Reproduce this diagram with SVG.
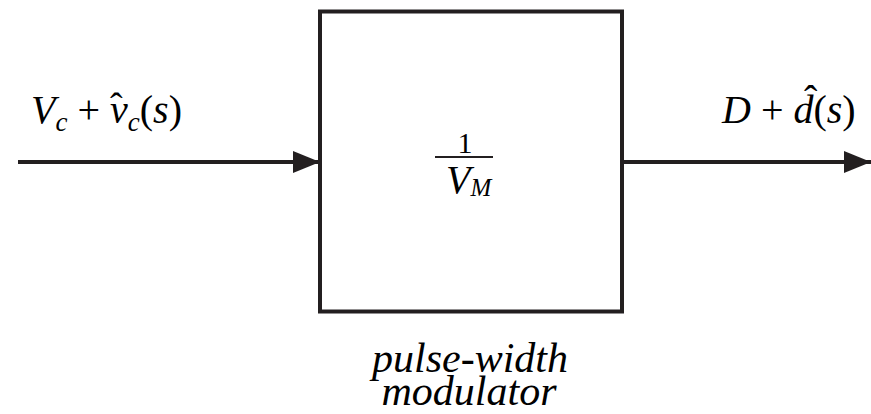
<svg xmlns="http://www.w3.org/2000/svg" width="871" height="414" viewBox="0 0 871 414">
<defs>
<marker id="ah" markerWidth="27" markerHeight="22" refX="27" refY="11" orient="auto" markerUnits="userSpaceOnUse">
<path d="M0,0 L27,11 L0,22 Z" fill="#231f20"/>
</marker>
</defs>
<rect width="871" height="414" fill="#fff"/>
<g id="connectors" stroke="#231f20" stroke-width="4" fill="none">
<line x1="18" y1="162" x2="320" y2="162" marker-end="url(#ah)"/>
<line x1="622" y1="162" x2="871" y2="162" marker-end="url(#ah)"/>
</g>
<g id="input-label">
<text font-family="Liberation Serif" x="31" y="123" font-size="40"><tspan font-style="italic">V</tspan><tspan font-style="italic" font-size="27" dy="8">c</tspan><tspan dy="-8"> + </tspan><tspan font-style="italic">v</tspan><tspan font-style="italic" font-size="27" dy="8">c</tspan><tspan dy="-8">(</tspan><tspan font-style="italic">s</tspan><tspan>)</tspan><tspan x="110" y="119" font-size="38">ˆ</tspan></text>
</g>
<g id="modulator">
<rect x="320" y="11.5" width="302" height="300" stroke="#231f20" stroke-width="4" fill="none"/>
<text font-family="Liberation Serif" x="465" y="153" font-size="30" text-anchor="middle">1</text>
<line x1="435" y1="157" x2="493" y2="157" stroke="#231f20" stroke-width="2"/>
<text font-family="Liberation Serif" font-style="italic" x="446" y="193" font-size="40">V<tspan font-size="25" dy="3">M</tspan></text>
</g>
<g id="output-label">
<text font-family="Liberation Serif" x="722" y="123" font-size="40"><tspan font-style="italic">D</tspan><tspan> + </tspan><tspan font-style="italic">d</tspan><tspan>(</tspan><tspan font-style="italic">s</tspan><tspan>)</tspan><tspan x="804" y="113" font-size="40">ˆ</tspan></text>
</g>
<g id="caption">
<text font-family="Liberation Serif" font-style="italic" x="470" y="372" font-size="42" text-anchor="middle">pulse-width</text>
<text font-family="Liberation Serif" font-style="italic" x="469" y="405" font-size="42" text-anchor="middle">modulator</text>
</g>
</svg>
